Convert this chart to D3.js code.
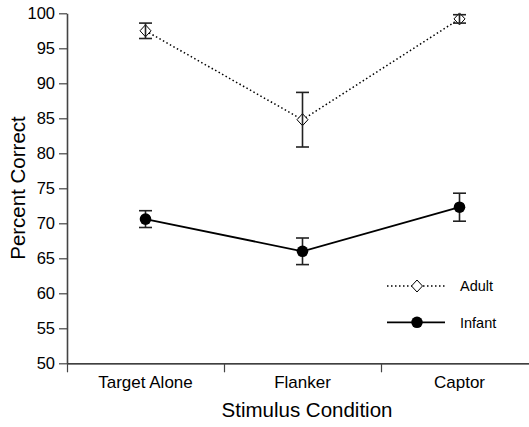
<!DOCTYPE html>
<html>
<head>
<meta charset="utf-8">
<script src="https://cdnjs.cloudflare.com/ajax/libs/d3/7.8.5/d3.min.js"></script>
<style>
  body { margin: 0; background: #fff; }
  svg { display: block; font-family: "Liberation Sans", Arial, Helvetica, sans-serif; }
</style>
</head>
<body>
<svg id="chart" width="529" height="427"></svg>
<script>
const conditions = ['Target Alone', 'Flanker', 'Captor'];
const adultMeans = [97.5, 84.8, 99.2];
const adultErrors = [1.1, 3.9, 0.6];
const infantMeans = [70.6, 66.0, 72.3];
const infantErrors = [1.2, 1.9, 2.0];
const yTicks = [50, 55, 60, 65, 70, 75, 80, 85, 90, 95, 100];

const svg = d3.select('#chart');

const xs = d3.scaleBand().domain(conditions).range([67, 538]);
const ys = d3.scaleLinear().domain([50, 100]).range([363.3, 13.3]);
const xc = (c) => xs(c) + xs.bandwidth() / 2;

// y axis
const yAxis = svg.append('g')
    .attr('transform', 'translate(67,0)')
    .call(d3.axisLeft(ys).tickValues(yTicks).tickSize(8).tickSizeOuter(0).tickPadding(4));
yAxis.select('.domain').attr('stroke', '#444').attr('stroke-width', 1.6);
yAxis.selectAll('.tick line').attr('stroke', '#444').attr('stroke-width', 1.2);
yAxis.selectAll('.tick text').attr('font-size', 16.5).attr('fill', '#000').attr('font-family', 'Liberation Sans, Arial, sans-serif');

// x axis: boundary ticks + centered labels
const xb = d3.scaleLinear().domain([0, conditions.length]).range(xs.range());
const xAxis = svg.append('g')
    .attr('transform', 'translate(0,363.3)')
    .call(d3.axisBottom(xb).ticks(conditions.length).tickFormat('').tickSize(9).tickSizeOuter(0));
xAxis.select('.domain').attr('stroke', '#000').attr('stroke-width', 1.3);
xAxis.selectAll('.tick line').attr('stroke', '#444').attr('stroke-width', 1.2);

const xLabels = svg.append('g')
    .attr('transform', 'translate(0,363.3)')
    .call(d3.axisBottom(xs).tickSize(0).tickPadding(13));
xLabels.select('.domain').remove();
xLabels.selectAll('.tick text').attr('font-size', 17).attr('fill', '#000').attr('font-family', 'Liberation Sans, Arial, sans-serif');

// axis titles
svg.append('text')
    .attr('x', 307)
    .attr('y', 417)
    .attr('text-anchor', 'middle')
    .attr('font-size', 20.5)
    .text('Stimulus Condition');

svg.append('g')
    .attr('transform', 'translate(25,188)')
    .append('text')
    .attr('text-anchor', 'middle')
    .attr('transform', 'rotate(-90)')
    .attr('font-size', 20.5)
    .text('Percent Correct');

const adultData = conditions.map((c, i) => ({ c, m: adultMeans[i], e: adultErrors[i] }));
const infantData = conditions.map((c, i) => ({ c, m: infantMeans[i], e: infantErrors[i] }));

const line = d3.line().x(d => xc(d.c)).y(d => ys(d.m));

const diamond = (cx, cy) => `M${cx},${cy - 6}L${cx + 5.5},${cy}L${cx},${cy + 6}L${cx - 5.5},${cy}Z`;

const drawErrors = (data) => {
    const g = svg.append('g').attr('stroke', '#222').attr('stroke-width', 1.6).attr('fill', 'none');
    data.forEach(d => {
        const x = xc(d.c);
        g.append('line').attr('x1', x).attr('x2', x).attr('y1', ys(d.m + d.e)).attr('y2', ys(d.m - d.e));
        g.append('line').attr('x1', x - 6.5).attr('x2', x + 6.5).attr('y1', ys(d.m + d.e)).attr('y2', ys(d.m + d.e));
        g.append('line').attr('x1', x - 6.5).attr('x2', x + 6.5).attr('y1', ys(d.m - d.e)).attr('y2', ys(d.m - d.e));
    });
};

// adult series
svg.append('path')
    .datum(adultData)
    .attr('d', line)
    .attr('fill', 'none')
    .attr('stroke', '#000')
    .attr('stroke-width', 1.5)
    .attr('stroke-dasharray', '1.5,2.5');

svg.append('g').selectAll('path')
    .data(adultData)
    .enter()
    .append('path')
    .attr('d', d => diamond(xc(d.c), ys(d.m)))
    .attr('fill', '#fff')
    .attr('stroke', '#000')
    .attr('stroke-width', 1);

drawErrors(adultData);

// infant series
svg.append('path')
    .datum(infantData)
    .attr('d', line)
    .attr('fill', 'none')
    .attr('stroke', '#000')
    .attr('stroke-width', 1.8);

drawErrors(infantData);

svg.append('g').selectAll('circle')
    .data(infantData)
    .enter()
    .append('circle')
    .attr('cx', d => xc(d.c))
    .attr('cy', d => ys(d.m))
    .attr('r', 5.8)
    .attr('fill', '#000');

// legend
const legend = svg.append('g').attr('transform', 'translate(387,0)');
legend.append('line')
    .attr('x1', 0).attr('x2', 58).attr('y1', 286).attr('y2', 286)
    .attr('stroke', '#000').attr('stroke-width', 1.5).attr('stroke-dasharray', '1.5,2.5');
legend.append('path').attr('d', diamond(30, 286)).attr('fill', '#fff').attr('stroke', '#000');
legend.append('text').attr('x', 73).attr('y', 291).attr('font-size', 14.5).text('Adult');

legend.append('line')
    .attr('x1', 0).attr('x2', 58).attr('y1', 322.3).attr('y2', 322.3)
    .attr('stroke', '#000').attr('stroke-width', 1.8);
legend.append('circle').attr('cx', 30).attr('cy', 322.3).attr('r', 5.8).attr('fill', '#000');
legend.append('text').attr('x', 73).attr('y', 327.5).attr('font-size', 14.5).text('Infant');
</script>
</body>
</html>
